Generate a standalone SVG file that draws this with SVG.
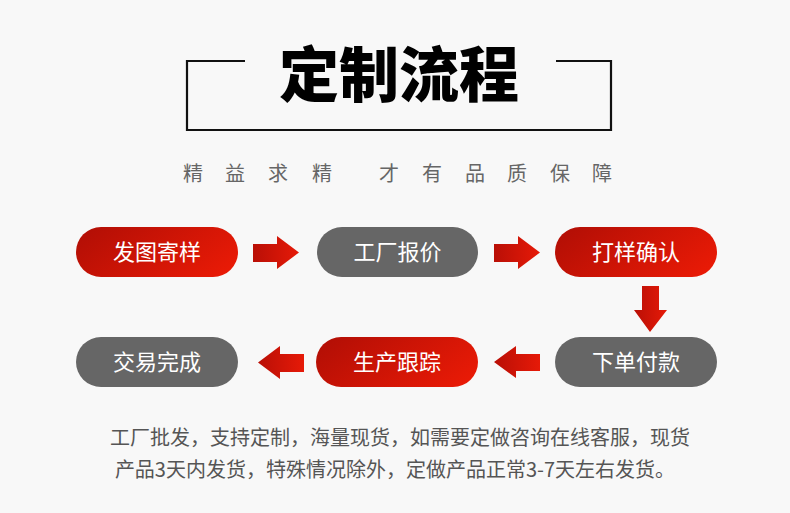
<svg xmlns="http://www.w3.org/2000/svg" width="790" height="513" viewBox="0 0 790 513">
<defs>
<linearGradient id="red" x1="0" y1="0.3" x2="1" y2="0.7">
<stop offset="0" stop-color="#b50f05"/>
<stop offset="1" stop-color="#e81a06"/>
</linearGradient>
<linearGradient id="redArrow" x1="0" y1="0" x2="1" y2="0">
<stop offset="0" stop-color="#b90f06"/>
<stop offset="1" stop-color="#e61a08"/>
</linearGradient>
<style>
.cjk{font-family:"Noto Sans CJK SC","Noto Sans",sans-serif;}
.pillText{font-size:22px;fill:#ffffff;text-anchor:middle;}
.redPill{fill:url(#red);}
.grayPill{fill:#666666;}
.arrow{fill:url(#redArrow);}
.frame{fill:none;stroke:#111111;stroke-width:2.2;}
</style>
</defs>
<rect width="790" height="513" fill="#f8f8f8"/>
<g id="title">
<polyline class="frame" points="245,61 187,61 187,130 611,130 611,61 556,61"/>
<text class="cjk" x="399" y="97" font-size="60" font-weight="900" text-anchor="middle" fill="#000000">定制流程</text>
</g>
<g id="subtitle">
<text class="cjk" y="181" font-size="20" fill="#666666" x="183 225 268 312 379 422 465 507 550 592">精益求精才有品质保障</text>
</g>
<g id="connectors">
<polygon class="arrow" points="253,244 277,244 277,236 299,252.5 277,269 277,262 253,262"/>
<polygon class="arrow" points="494,244 518,244 518,236 540,252.5 518,269 518,262 494,262"/>
<polygon class="arrow" points="642,286 659,286 659,310 667,310 650,332 634,310 642,310"/>
<polygon class="arrow" points="494,362 516,346 516,354 540,354 540,371 516,371 516,378"/>
<polygon class="arrow" points="258,362.5 280,346 280,354 304,354 304,372 280,372 280,379"/>
</g>
<g id="node-fayangji">
<rect class="redPill" x="76" y="227" width="162" height="50" rx="25"/>
<text class="cjk pillText" x="157" y="260">发图寄样</text>
</g>
<g id="node-baojia">
<rect class="grayPill" x="317" y="227" width="161" height="50" rx="25"/>
<text class="cjk pillText" x="397.5" y="260">工厂报价</text>
</g>
<g id="node-dayang">
<rect class="redPill" x="555" y="227" width="162" height="50" rx="25"/>
<text class="cjk pillText" x="636" y="260">打样确认</text>
</g>
<g id="node-xiadan">
<rect class="grayPill" x="555" y="337" width="162" height="50" rx="25"/>
<text class="cjk pillText" x="636" y="370">下单付款</text>
</g>
<g id="node-shengchan">
<rect class="redPill" x="316" y="337" width="162" height="50" rx="25"/>
<text class="cjk pillText" x="397" y="370">生产跟踪</text>
</g>
<g id="node-jiaoyi">
<rect class="grayPill" x="76" y="337" width="162" height="50" rx="25"/>
<text class="cjk pillText" x="157" y="370">交易完成</text>
</g>
<g id="note">
<text class="cjk" x="400" y="445" font-size="20" fill="#555555" text-anchor="middle">工厂批发，支持定制，海量现货，如需要定做咨询在线客服，现货</text>
<text class="cjk" x="395" y="477" font-size="20" fill="#555555" text-anchor="middle">产品3天内发货，特殊情况除外，定做产品正常3-7天左右发货。</text>
</g>
</svg>
